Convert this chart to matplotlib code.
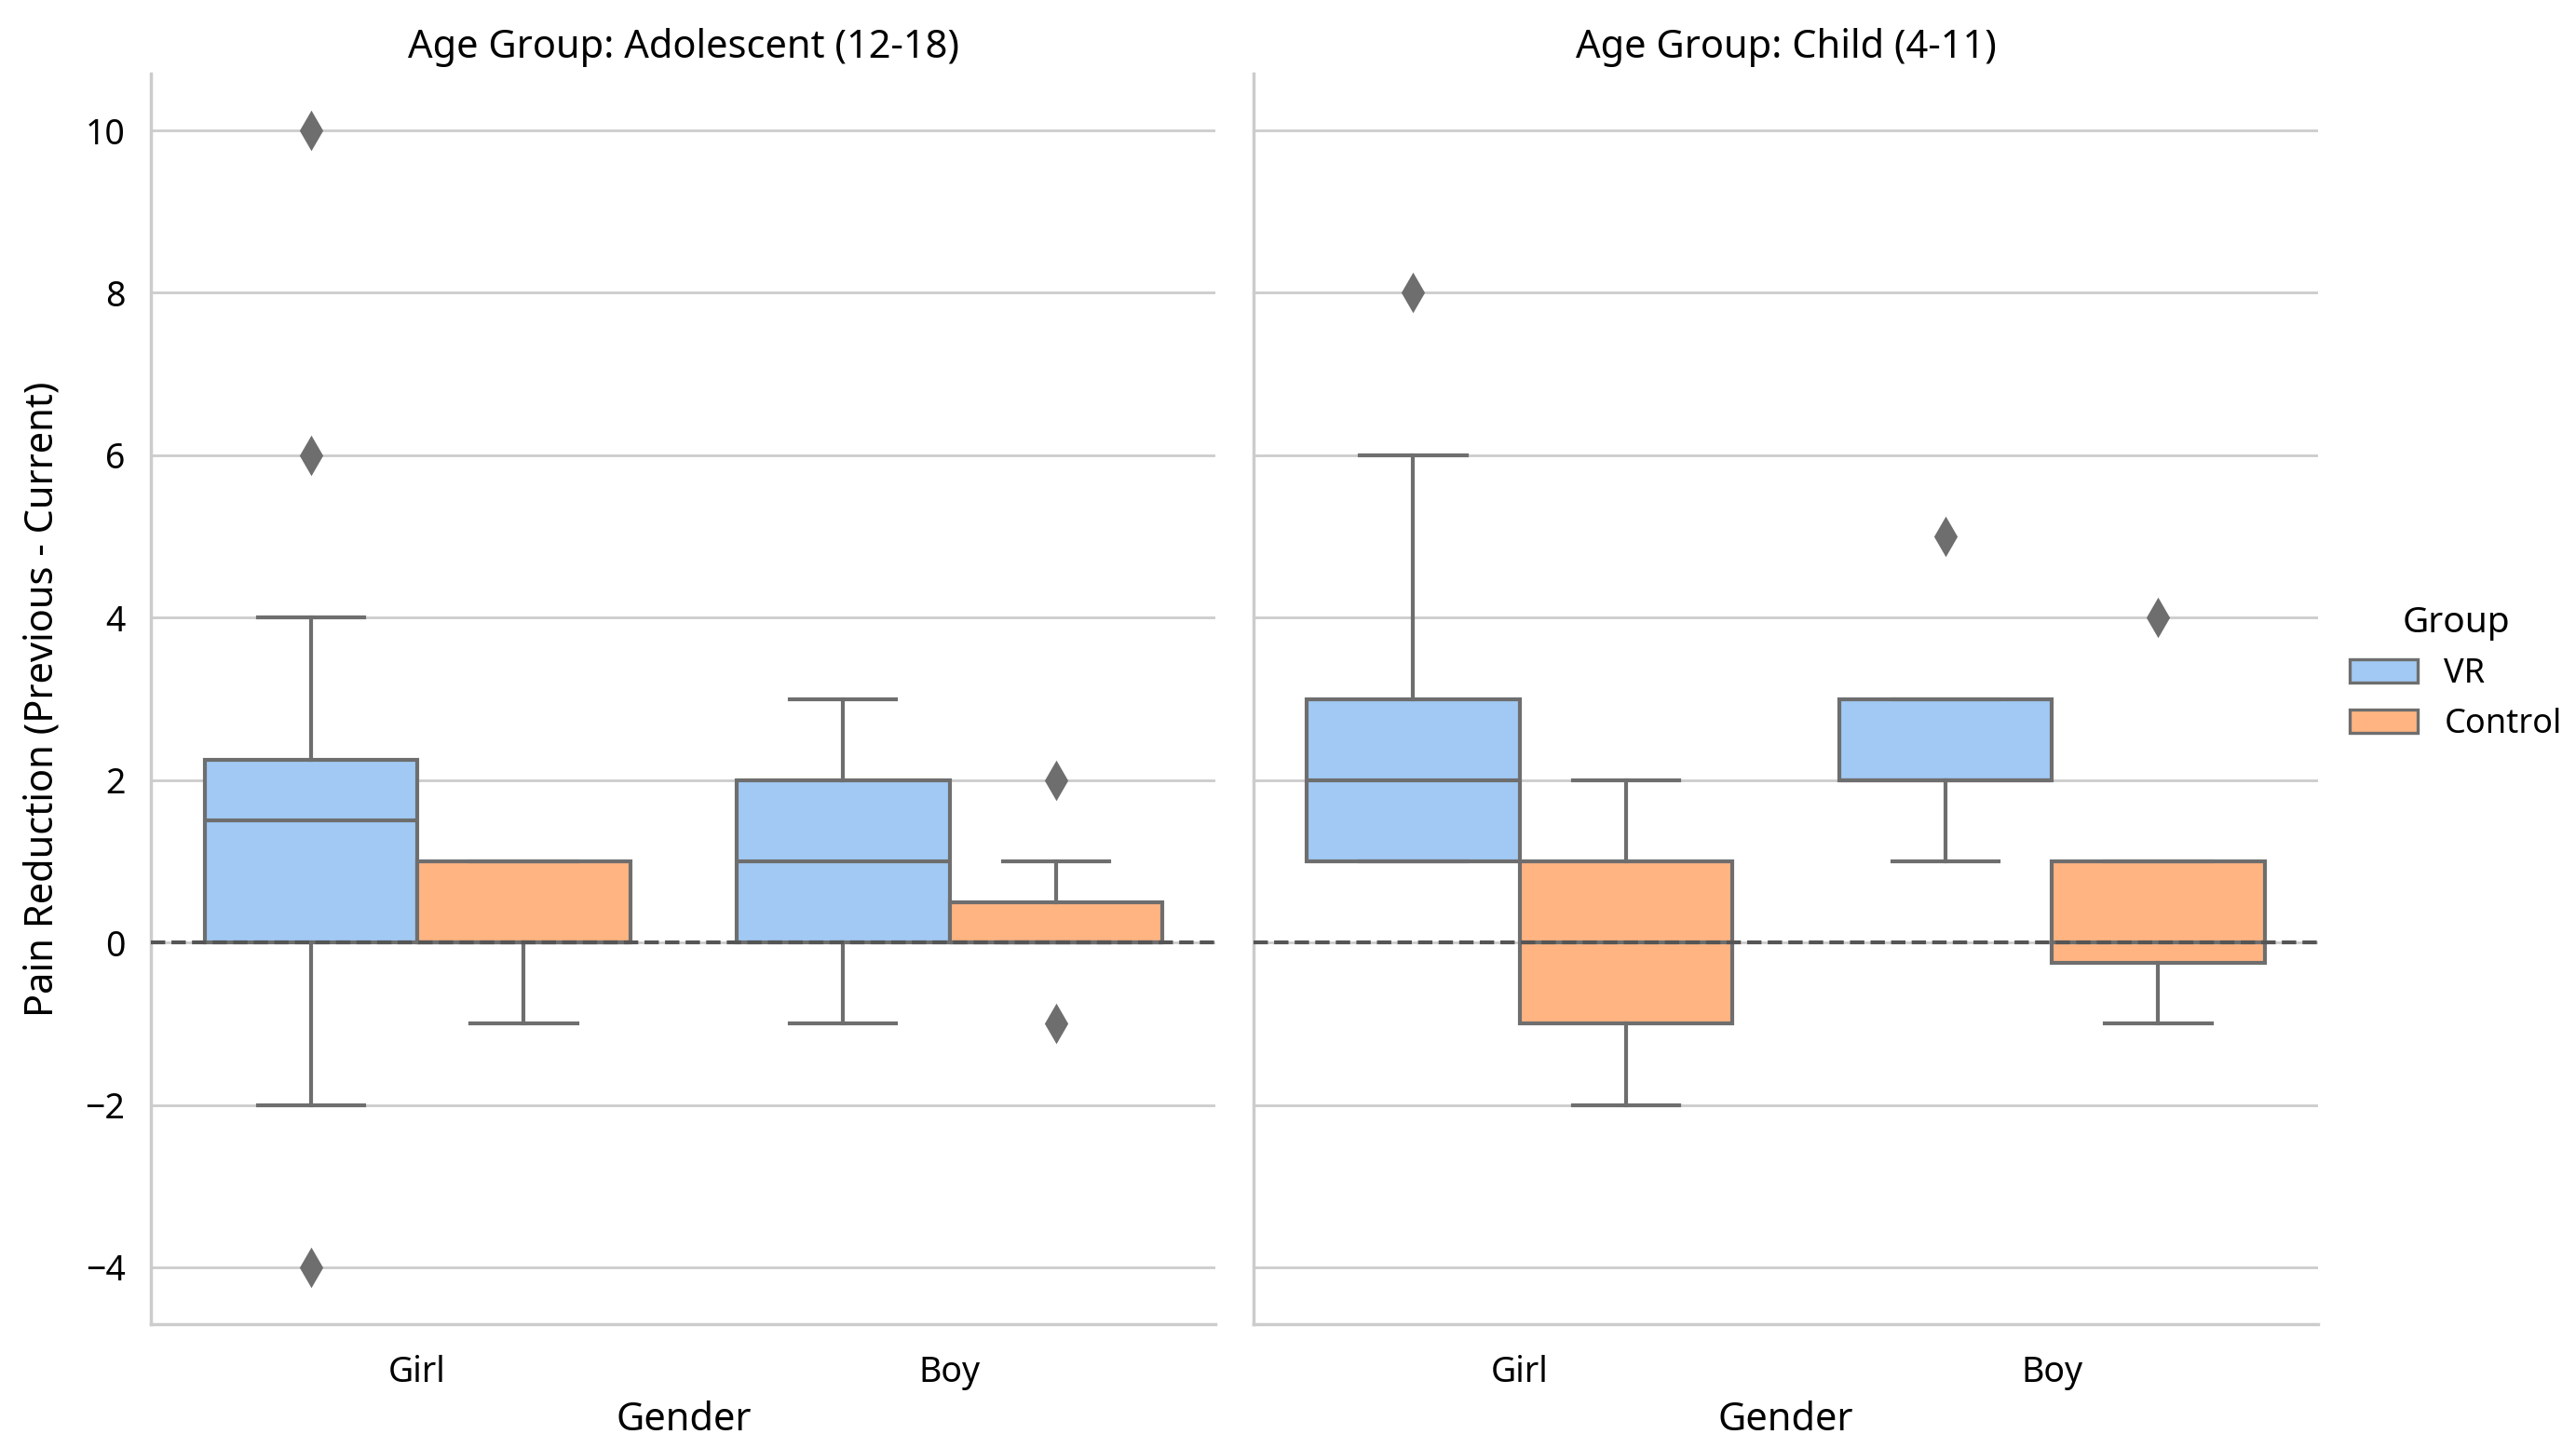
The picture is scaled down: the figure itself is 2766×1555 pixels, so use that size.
import matplotlib
matplotlib.use("Agg")
import matplotlib.pyplot as plt
import matplotlib.patches as mpatches

# box summary values
age_groups = ["Adolescent (12-18)", "Child (4-11)"]
genders = ["Girl", "Boy"]
groups = ["VR", "Control"]

# order: [age][gender][group]
q1 = [[[0, 0], [0, 0]], [[1, -1], [2, -0.25]]]
med = [[[1.5, 0], [1, 0]], [[2, 0], [2, 0]]]
q3 = [[[2.25, 1], [2, 0.5]], [[3, 1], [3, 1]]]
whis_lo = [[[-2, -1], [-1, 0]], [[1, -2], [1, -1]]]
whis_hi = [[[4, 1], [3, 1]], [[6, 2], [3, 1]]]
fliers = [[[[10, 6, -4], []], [[], [2, -1]]],
          [[[8], []], [[5], [4]]]]

colors = ["#a1c9f4", "#ffb482"]
line_gray = "#6e6e6e"

plt.rcParams["font.family"] = ["Noto Sans", "DejaVu Sans"]

fig = plt.figure(figsize=(13.83, 7.775), dpi=200)
ax1 = fig.add_axes([0.0587, 0.0855, 0.4132, 0.8637])
ax2 = fig.add_axes([0.4866, 0.0855, 0.4132, 0.8637], sharey=ax1)
axes = [ax1, ax2]

for a, ax in enumerate(axes):
    for g in range(len(genders)):
        for h in range(len(groups)):
            stats = [{
                "q1": q1[a][g][h], "med": med[a][g][h], "q3": q3[a][g][h],
                "whislo": whis_lo[a][g][h], "whishi": whis_hi[a][g][h],
                "fliers": fliers[a][g][h],
            }]
            pos = g - 0.2 + 0.4 * h
            ax.bxp(stats, positions=[pos], widths=0.4, capwidths=0.2,
                   patch_artist=True, showfliers=True, manage_ticks=False,
                   boxprops=dict(facecolor=colors[h], edgecolor=line_gray, linewidth=1.5),
                   medianprops=dict(color=line_gray, linewidth=1.5),
                   whiskerprops=dict(color=line_gray, linewidth=1.5),
                   capprops=dict(color=line_gray, linewidth=1.5),
                   flierprops=dict(marker="d", markerfacecolor=line_gray,
                                   markeredgecolor=line_gray, markersize=9.5))
    ax.axhline(0, color="#555555", linestyle="--", linewidth=1.5, zorder=5)
    ax.set_xlim(-0.5, 1.5)
    ax.set_xticks(range(len(genders)))
    ax.set_xticklabels(genders)
    ax.set_xlabel("Gender", fontsize=15, labelpad=4)
    ax.set_title("Age Group: " + age_groups[a], fontsize=15, pad=6)
    ax.grid(axis="y", color="#cccccc", linewidth=1)
    ax.set_axisbelow(True)
    ax.tick_params(length=0, labelsize=13.5)
    ax.tick_params(axis="x", pad=12)
    ax.tick_params(axis="y", pad=10)
    for side in ["top", "right"]:
        ax.spines[side].set_visible(False)
    for side in ["left", "bottom"]:
        ax.spines[side].set_color("#cccccc")
        ax.spines[side].set_linewidth(1.25)

ax1.set_ylim(-4.7, 10.7)
ax1.set_yticks(range(-4, 11, 2))
ax1.set_ylabel("Pain Reduction (Previous - Current)", fontsize=15, labelpad=9)
plt.setp(ax2.get_yticklabels(), visible=False)

handles = [mpatches.Patch(facecolor=colors[i], edgecolor=line_gray, linewidth=1.2, label=groups[i])
           for i in range(len(groups))]
fig.legend(handles=handles, title="Group", loc="center left", bbox_to_anchor=(0.9005, 0.535),
           frameon=False, fontsize=13, title_fontsize=14, handlelength=2.0)

fig.savefig("out.png", dpi=200)
